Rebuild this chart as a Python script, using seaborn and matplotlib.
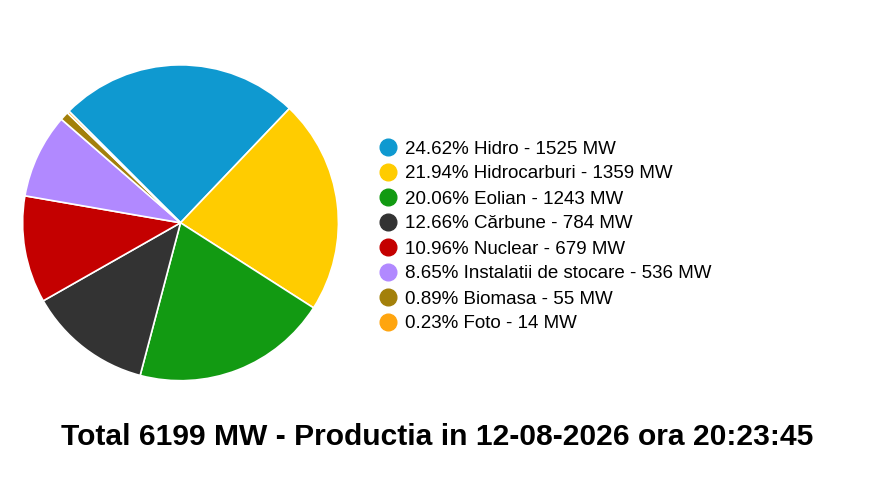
import matplotlib
matplotlib.use("Agg")
import matplotlib.pyplot as plt
from matplotlib.lines import Line2D
import seaborn as sns

sources = ['Hidro', 'Hidrocarburi', 'Eolian', 'Cărbune', 'Nuclear',
           'Instalatii de stocare', 'Biomasa', 'Foto']
mw = [1525, 1359, 1243, 784, 679, 536, 55, 14]
pct = [24.62, 21.94, 20.06, 12.66, 10.96, 8.65, 0.89, 0.23]
hex_colors = ['#0f99d0', '#ffcc00', '#129a12', '#333333', '#c40000',
              '#b189ff', '#a3800a', '#ffa50f']

sns.set_theme(style="white")
plt.rcParams['font.family'] = ['Liberation Sans', 'DejaVu Sans']
colors = sns.color_palette(hex_colors)

fig = plt.figure(figsize=(8.7, 4.94), dpi=100)
ax = fig.add_axes([0.026, 0.229, 0.363, 0.64])
wedges, _ = ax.pie(mw, colors=colors, startangle=135, counterclock=False,
                   wedgeprops={'edgecolor': 'white', 'linewidth': 1.2})
ax.set_aspect('equal')
ax.set_xlim(-1, 1)
ax.set_ylim(-1, 1)

handles = [Line2D([], [], marker='o', linestyle='', markersize=12,
                  markerfacecolor=c, markeredgecolor=c) for c in colors]
labels = [f"{p:.2f}% {s} - {m} MW" for p, s, m in zip(pct, sources, mw)]
fig.legend(handles, labels, loc='upper left', bbox_to_anchor=(0.415, 0.75),
           frameon=False, fontsize=13.5, labelspacing=0.42, handletextpad=0.35,
           handlelength=1.1, labelcolor='black')

fig.text(0.502, 0.115, "Total 6199 MW - Productia in 12-08-2026 ora 20:23:45",
         ha='center', va='center', fontsize=21.6, fontweight='bold', color='black')

fig.savefig("out.png", dpi=100)
